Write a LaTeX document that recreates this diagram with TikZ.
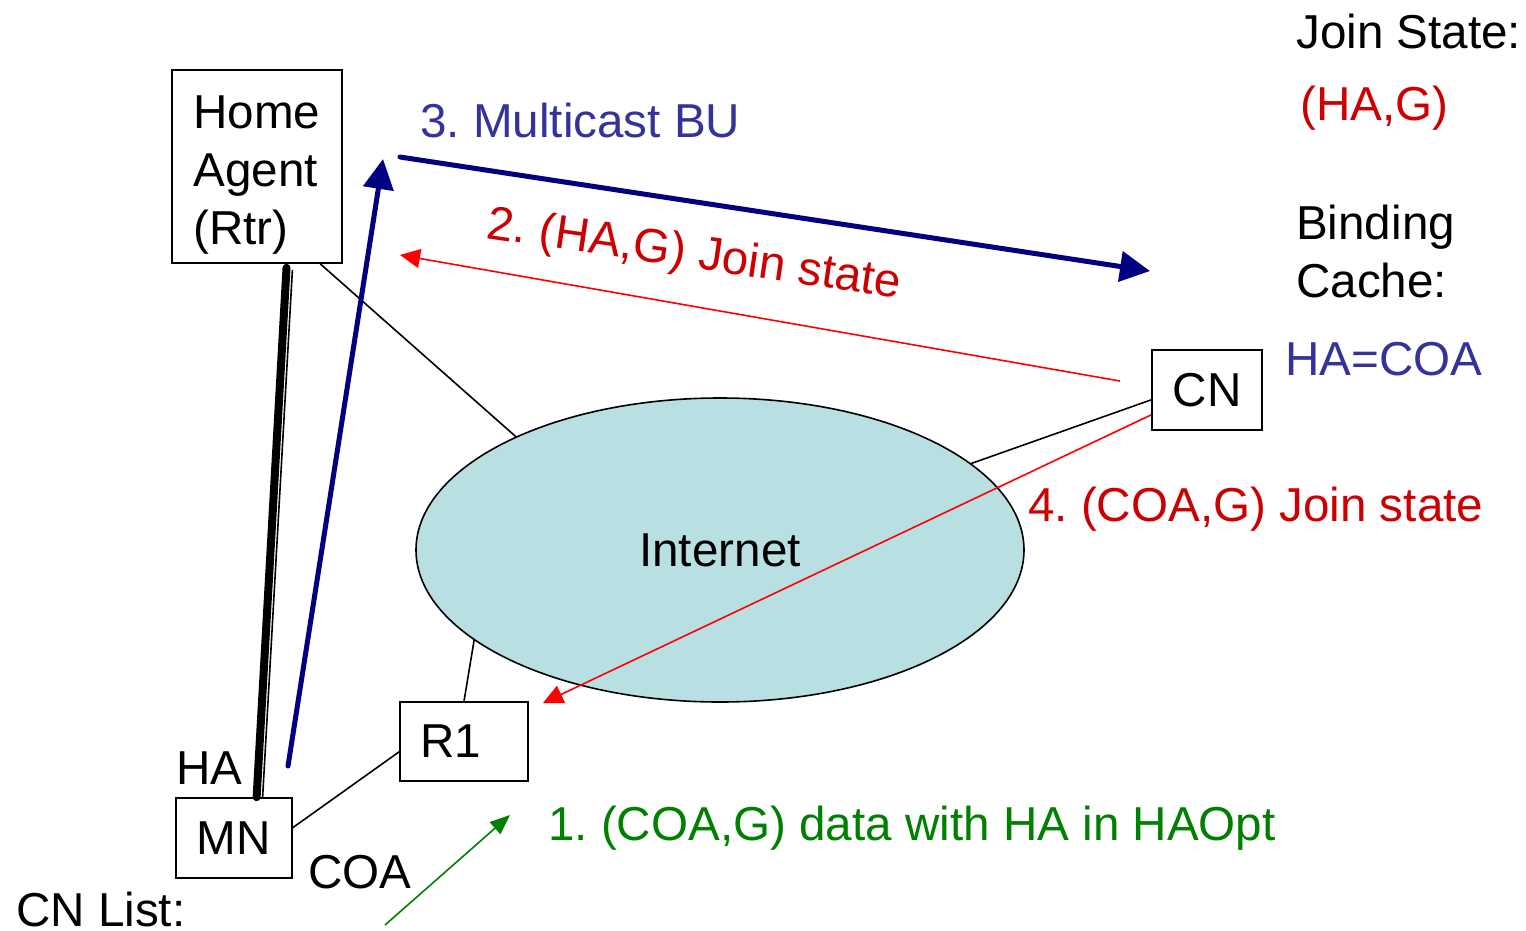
\documentclass[tikz,border=0pt]{standalone}
\usepackage{fontspec}
\setmainfont{Liberation Sans}
\usepackage{tikz}
\usetikzlibrary{calc,arrows.meta,shapes.geometric}
\definecolor{netblue}{RGB}{184,224,227}
\definecolor{busblue}{RGB}{0,0,128}
\definecolor{txtblue}{RGB}{51,51,153}
\definecolor{joinred}{RGB}{204,0,0}
\definecolor{datagreen}{RGB}{0,128,0}
\frenchspacing

\begin{document}
\begin{tikzpicture}[x=1pt,y=-1pt,
    every node/.style={font=\fontsize{47.6}{58}\selectfont},
    box/.style={draw,line width=1.6pt,inner sep=0pt},
    txt/.style={anchor=base west,inner sep=0pt},
    link/.style={line width=1.6pt},
    bu/.style={busblue,line width=5pt,line cap=round,-{Triangle[length=30pt,width=30pt]}},
    joinmsg/.style={red,line width=1.6pt,-{Triangle[length=20pt,width=19pt]}},
    datamsg/.style={datagreen,line width=1.6pt,-{Triangle[length=20pt,width=16pt]}}]
    \useasboundingbox (0,0) rectangle (1526,930);

    % network and boxes
    \node[ellipse,draw,fill=netblue,line width=1.6pt,minimum width=608pt,minimum height=304pt,inner sep=0pt,outer sep=0pt] (net) at (720,550) {Internet};
    \node[box,minimum width=170pt,minimum height=193pt,align=left] (ha) at (257,166.5) {\rule{0pt}{49pt}Home\\Agent\\(Rtr)};
    \node[box,minimum width=110pt,minimum height=80pt] (cn) at (1207,390) {CN};
    \node[box,inner xsep=20pt,text width=88pt,align=left,minimum height=79pt] (r1) at (464,741.5) {R1};
    \node[box,minimum width=116pt,minimum height=80pt] (mn) at (234,838) {MN};

    % texts
    \node[txt,txtblue] (bulbl) at (420,137) {3. Multicast BU};
    \node[txt,joinred,rotate=-8.3] (jnlbl) at (485,238) {2. (HA,G) Join state};
    \node[txt,joinred] (coalbl) at (1028,521) {4. (COA,G) Join state};
    \node[txt,datagreen] (datlbl) at (548,840) {1. (COA,G) data with HA in HAOpt};
    \node[txt] (jslbl) at (1296,48) {Join State:};
    \node[txt,joinred] (jsval) at (1300,120) {(HA,G)};
    \node[anchor=north west,inner sep=0pt,align=left] (bclbl) at (1296,205) {Binding\\Cache:};
    \node[txt,txtblue] (bcval) at (1285,375) {HA=COA};
    \node[txt] (haaddr) at (176,784) {HA};
    \node[txt] (coaaddr) at (308,888) {COA};
    \node[txt] (cnlist) at (16,926) {CN List:};

    % links
    \draw[link] (ha.-57) -- (net.151);
    \draw[link] (cn.190) -- (net.19);
    \draw[link] (r1.north) -- (net.200);
    \draw[link] (mn.10) -- (r1.189);
    \draw[line width=8pt,line cap=round,shorten <=4pt] (ha.-73) -- (mn.61);
    \draw[link,shorten <=6pt] ($(ha.-73)+(6,0)$) -- ($(mn.61)+(6,0)$);

    % messages
    \coordinate (buA) at (288,766);
    \coordinate (buB) at (383,159);
    \coordinate (buC) at (400,157);
    \coordinate (buD) at (1150,271);
    \draw[bu] (buA) -- (buB);
    \draw[bu] (buC) -- (buD);
    \coordinate (jnA) at (1120,381);
    \coordinate (jnB) at (400,255);
    \draw[joinmsg] (jnA) -- (jnB);
    \coordinate (jnC) at (543,703);
    \draw[joinmsg] (cn.204) -- (jnC);
    \coordinate (datA) at (385,925);
    \coordinate (datB) at (510,815);
    \draw[datamsg] (datA) -- (datB);
\end{tikzpicture}
\end{document}
